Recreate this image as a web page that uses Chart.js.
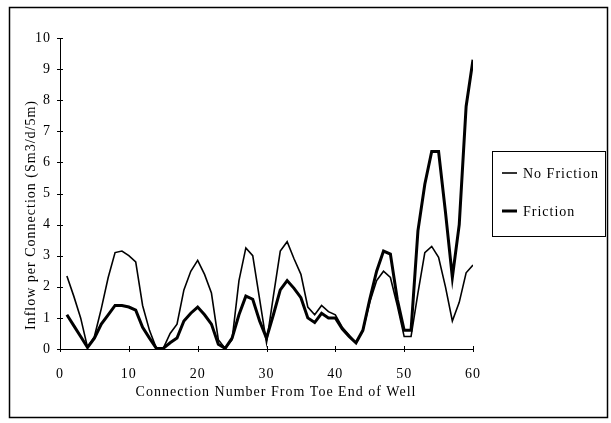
<!DOCTYPE html>
<html>
<head>
<meta charset="utf-8">
<script src="https://cdn.jsdelivr.net/npm/chart.js@4.4.1/dist/chart.umd.min.js"></script>
<style>
  html, body { margin: 0; padding: 0; background: #fff; }
  #wrap { width: 611px; height: 423px; position: relative; }
</style>
</head>
<body>
<div id="wrap"><canvas id="c" width="611" height="423"></canvas></div>
<script>
const connections = [1,2,3,4,5,6,7,8,9,10,11,12,13,14,15,16,17,18,19,20,21,22,23,24,25,26,27,28,29,30,31,32,33,34,35,36,37,38,39,40,41,42,43,44,45,46,47,48,49,50,51,52,53,54,55,56,57,58,59,60];
const noFriction = [2.35,1.7,1.0,0.05,0.4,1.3,2.3,3.1,3.15,3.0,2.8,1.4,0.6,0.02,0.02,0.5,0.8,1.9,2.5,2.85,2.4,1.8,0.3,0.02,0.3,2.2,3.25,3.0,1.6,0.2,1.7,3.15,3.45,2.9,2.4,1.35,1.1,1.4,1.2,1.1,0.7,0.45,0.2,0.6,1.5,2.2,2.5,2.3,1.4,0.4,0.4,1.8,3.1,3.3,2.95,2.0,0.9,1.5,2.45,2.7];
const friction = [1.1,0.75,0.4,0.05,0.35,0.8,1.1,1.4,1.4,1.35,1.25,0.7,0.35,0.02,0.02,0.2,0.35,0.9,1.15,1.35,1.1,0.8,0.15,0.02,0.35,1.1,1.7,1.6,0.9,0.35,1.1,1.9,2.2,1.95,1.65,1.0,0.85,1.15,1.0,1.0,0.65,0.4,0.2,0.6,1.6,2.5,3.15,3.05,1.6,0.6,0.6,3.8,5.3,6.35,6.35,4.4,2.3,4.0,7.8,9.3];
const seriesNames = ['No Friction', 'Friction'];
const xTicks = [0,10,20,30,40,50,60];
const yTicks = [0,1,2,3,4,5,6,7,8,9,10];
const xTitle = 'Connection Number From Toe End of Well';
const yTitle = 'Inflow per Connection (Sm3/d/5m)';

const FONT = "'Liberation Serif', 'Times New Roman', serif";
Chart.defaults.font.family = FONT;
Chart.defaults.font.size = 14;
Chart.defaults.color = '#000';

const widths = [1.6, 3];

const decor = {
  id: 'decor',
  beforeUpdate(chart) { chart.ctx.letterSpacing = '1px'; },
  beforeDraw(chart) {
    const ctx = chart.ctx;
    ctx.letterSpacing = '1px';
    ctx.save();
    ctx.fillStyle = '#fff';
    ctx.fillRect(0, 0, chart.width, chart.height);
    ctx.restore();
  },
  afterDraw(chart) {
    const ctx = chart.ctx;
    const xs = chart.scales.x, ys = chart.scales.y;
    ctx.save();
    ctx.strokeStyle = '#000';
    ctx.lineWidth = 1;
    // cross ticks
    xs.ticks.forEach(t => {
      const px = Math.round(xs.getPixelForValue(t.value)) + 0.5;
      ctx.beginPath();
      ctx.moveTo(px, xs.top - 3);
      ctx.lineTo(px, xs.top + 3);
      ctx.stroke();
    });
    ys.ticks.forEach(t => {
      const py = Math.round(ys.getPixelForValue(t.value)) + 0.5;
      ctx.beginPath();
      ctx.moveTo(ys.right - 3, py);
      ctx.lineTo(ys.right + 3, py);
      ctx.stroke();
    });
    ctx.font = '14px ' + FONT;
    ctx.letterSpacing = '1px';
    ctx.fillStyle = '#000';
    // x axis title
    ctx.textAlign = 'center';
    ctx.textBaseline = 'middle';
    ctx.fillText(xTitle, 276, 392);
    // y axis title
    ctx.save();
    ctx.translate(31, 215);
    ctx.rotate(-Math.PI / 2);
    ctx.fillText(yTitle, 0, 0);
    ctx.restore();
    // outer border
    ctx.lineWidth = 1.5;
    ctx.strokeRect(9.5, 7.5, 598, 410);
    // legend
    ctx.lineWidth = 1;
    ctx.strokeRect(492.5, 151.5, 113, 85);
    ctx.textBaseline = 'middle';
    ctx.textAlign = 'left';
    const rows = [173, 211];
    chart.data.datasets.forEach((ds, i) => {
      ctx.lineWidth = ds.borderWidth;
      ctx.beginPath();
      ctx.moveTo(502, rows[i]);
      ctx.lineTo(517, rows[i]);
      ctx.stroke();
      ctx.fillText(ds.label, 523, rows[i] + 1);
    });
    ctx.restore();
  }
};

new Chart(document.getElementById('c'), {
  type: 'line',
  data: {
    datasets: [
      {
        label: seriesNames[0],
        data: connections.map((c, i) => ({x: c, y: noFriction[i]})),
        borderColor: '#000', borderWidth: widths[0], pointRadius: 0, tension: 0, fill: false
      },
      {
        label: seriesNames[1],
        data: connections.map((c, i) => ({x: c, y: friction[i]})),
        borderColor: '#000', borderWidth: widths[1], pointRadius: 0, tension: 0, fill: false
      }
    ]
  },
  options: {
    responsive: false,
    animation: false,
    devicePixelRatio: 1,
    layout: { padding: { left: 10, right: 138, top: 38, bottom: 0 } },
    plugins: { legend: { display: false }, tooltip: { enabled: false } },
    scales: {
      x: {
        type: 'linear', min: 0, max: 60,
        afterBuildTicks(s) { s.ticks = xTicks.map(v => ({value: v})); },
        afterFit(s) { s.height = 74; },
        grid: { display: false, drawTicks: false },
        border: { display: true, color: '#000', width: 1 },
        ticks: { padding: 17, maxRotation: 0, autoSkip: false, color: '#000' },
        title: { display: false, text: xTitle }
      },
      y: {
        type: 'linear', min: 0, max: 10,
        afterBuildTicks(s) { s.ticks = yTicks.map(v => ({value: v})); },
        afterFit(s) { s.width = 50; },
        grid: { display: false, drawTicks: false },
        border: { display: true, color: '#000', width: 1 },
        ticks: { padding: 9, autoSkip: false, color: '#000' },
        title: { display: false, text: yTitle }
      }
    }
  },
  plugins: [decor]
});
</script>
</body>
</html>
